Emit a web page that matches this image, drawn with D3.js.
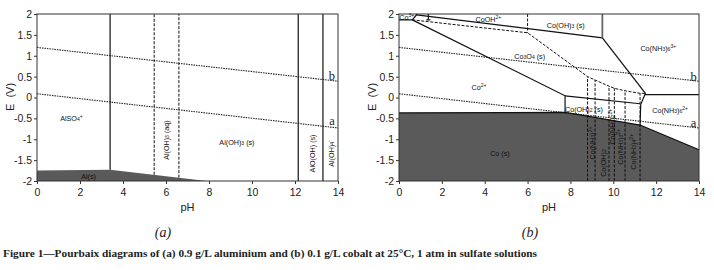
<!DOCTYPE html>
<html>
<head>
<meta charset="utf-8">
<script src="https://cdn.jsdelivr.net/npm/d3@7"></script>
<style>
  body { margin: 0; background: #fff; }
  svg { display: block; }
  .tick text { font-family: "Liberation Sans", Arial, sans-serif; font-size: 10.5px; fill: #222; }
  .tick line { stroke: #333; }
</style>
</head>
<body>
<svg id="chart" width="714" height="270"></svg>
<script>
// axis ticks
var phTicks = [0, 2, 4, 6, 8, 10, 12, 14];
var eTicks = [2, 1.5, 1, 0.5, 0, -0.5, -1, -1.5, -2];

// water stability lines (shared by both panels)
var waterB = [[0, 1.2], [14, 0.39]];
var waterA = [[0, 0.09], [14, -0.73]];

// ---- panel (a): aluminium ----
var alSolidArea = [[0, -1.75], [3.4, -1.73], [7.9, -2], [0, -2]];
var alSolidLines = [
  [[3.4, -1.73], [3.4, 2]],
  [[12.15, -2], [12.15, 2]],
  [[13.3, -2], [13.3, 2]]
];
var alDashLines = [
  [[5.45, -1.85], [5.45, 2]],
  [[6.6, -1.92], [6.6, 2]]
];
// [text, pH, E, rotated]
var alLabels = [
  ["AlSO{_4}{^+}", 1.6, -0.5, false],
  ["Al(OH){_3} (aq)", 6.0, -1.02, true],
  ["Al(OH){_3} (s)", 9.3, -1.06, false],
  ["AlO(OH) (s)", 12.78, -1.34, true],
  ["Al(OH){_4}{^-}", 13.67, -1.34, true],
  ["Al(s)", 2.4, -1.87, false]
];

// ---- panel (b): cobalt ----
var coSolidArea = [[0, -0.37], [7.75, -0.355], [11.25, -0.66], [14, -1.25], [14, -2], [0, -2]];
var coSolidLines = [
  [[0, -0.37], [7.75, -0.355], [11.25, -0.66], [14, -1.25]],
  [[0, 1.86], [0.62, 1.86], [0.85, 2]],
  [[0.62, 1.86], [7.75, 0.04], [7.75, -0.355]],
  [[7.75, 0.04], [11.25, -0.15]],
  [[0.82, 1.98], [9.49, 1.43], [11.5, 0.1], [11.28, -0.17], [11.25, -0.66]],
  [[11.48, 0.07], [14, 0.07]],
  [[1.37, 2], [1.37, 1.86]],
  [[1.27, 1.86], [1.47, 1.86]]
];
var coGreyLines = [
  [[9.49, 1.43], [9.49, 2]]
];
var coDashBoundary = [[0.62, 1.86], [6, 1.55], [8.8, 0.5], [9.15, 0.42], [9.8, 0.27], [10.05, 0.22], [10.55, 0.16], [11.25, 0.1], [11.5, 0.1]];
var coDashVerticals = [[8.8, 0.5], [9.15, 0.42], [9.8, 0.27], [10.05, 0.22], [10.55, 0.16], [11.25, 0.1]];
var coDashTop = [[6, 2], [6, 1.55]];
var coLabels = [
  ["Co{^3+}", 0.36, 1.92, false],
  ["CoOH{^2+}", 4.17, 1.88, false],
  ["Co(OH){_3} (s)", 7.78, 1.74, false],
  ["Co(NH{_3}){_6}{^3+}", 12.1, 1.18, false],
  ["Co{_3}O{_4} (s)", 6.1, 1.0, false],
  ["Co{^2+}", 3.73, 0.24, false],
  ["Co(OH){_2} (s)", 8.63, -0.28, false],
  ["Co(NH{_3}){_6}{^2+}", 12.65, -0.3, false],
  ["Co (s)", 4.71, -1.32, false],
  ["Co(NH{_3}){^2+}", 9.0, -1.09, true],
  ["Co(OH){_2}", 9.53, -1.57, true],
  ["Co(NH{_3}){_2}{^2+}", 9.92, -0.7, true],
  ["Co(NH{_3}){_3}{^2+}", 10.31, -1.18, true],
  ["Co(NH{_3}){_4}{^2+}", 10.93, -1.3, true]
];

var svg = d3.select("#chart");
var line = d3.line();

// writes "Al(OH){_3}" style markup into a text element with sub/sup tspans
function addRichText(sel, str) {
  var parts = str.split(/(\{[_^][^}]*\})/).filter(function (p) { return p.length; });
  parts.forEach(function (p) {
    var m = p.match(/^\{([_^])(.*)\}$/);
    if (m) {
      sel.append("tspan")
        .attr("font-size", "70%")
        .attr("baseline-shift", m[1] == "_" ? "-25%" : "45%")
        .text(m[2]);
    } else {
      sel.append("tspan").text(p);
    }
  });
}

function drawPanel(opt) {
  var x = d3.scaleLinear().domain([0, 14]).range([opt.left, opt.right]);
  var y = d3.scaleLinear().domain([-2, 2]).range([181, 14]);
  var g = svg.append("g");
  var path = line.x(function (d) { return x(d[0]); }).y(function (d) { return y(d[1]); });

  g.append("path").attr("d", path(opt.area) + "Z").attr("fill", "#5a5a5a").attr("stroke", "none");

  // water lines
  [opt.waterA, opt.waterB].forEach(function (w) {
    g.append("path").attr("d", path(w)).attr("fill", "none")
      .attr("stroke", "#222").attr("stroke-width", 1.1).attr("stroke-dasharray", "1.5,1");
  });

  opt.dashed.forEach(function (l) {
    g.append("path").attr("d", path(l)).attr("fill", "none")
      .attr("stroke", "#111").attr("stroke-width", 1).attr("stroke-dasharray", "3,1.5");
  });
  opt.solid.forEach(function (l) {
    g.append("path").attr("d", path(l)).attr("fill", "none")
      .attr("stroke", "#111").attr("stroke-width", 1.2);
  });
  (opt.grey || []).forEach(function (l) {
    g.append("path").attr("d", path(l)).attr("fill", "none")
      .attr("stroke", "#666").attr("stroke-width", 1.8);
  });

  // frame
  g.append("rect").attr("x", x(0)).attr("y", y(2))
    .attr("width", x(14) - x(0)).attr("height", y(-2) - y(2))
    .attr("fill", "none").attr("stroke", "#333").attr("stroke-width", 1);

  // region labels
  opt.labels.forEach(function (d) {
    var t = g.append("text")
      .attr("font-family", "Liberation Sans, Arial, sans-serif")
      .attr("font-size", 7.2)
      .attr("fill", "#111")
      .attr("text-anchor", "middle")
      .attr("dominant-baseline", "central");
    if (d[3]) t.attr("transform", "translate(" + x(d[1]) + "," + y(d[2]) + ") rotate(-90)");
    else t.attr("x", x(d[1])).attr("y", y(d[2]));
    addRichText(t, d[0]);
  });

  // a / b tags
  [["b", opt.bTag], ["a", opt.aTag]].forEach(function (d) {
    g.append("text").attr("x", x(d[1][0])).attr("y", y(d[1][1]))
      .attr("font-family", "Liberation Serif, serif").attr("font-size", 12.5)
      .attr("text-anchor", "middle").attr("dominant-baseline", "central")
      .attr("fill", "#222").text(d[0]);
  });

  // axes
  var ax = g.append("g").attr("transform", "translate(0,181)")
    .call(d3.axisBottom(x).tickValues(phTicks).tickSize(3).tickPadding(5));
  ax.select(".domain").remove();
  var ay = g.append("g").attr("transform", "translate(" + opt.left + ",0)")
    .call(d3.axisLeft(y).tickValues(eTicks).tickSize(3).tickPadding(2)
      .tickFormat(function (d) { return String(d); }));
  ay.select(".domain").remove();

  g.append("text").attr("x", (opt.left + opt.right) / 2).attr("y", 211)
    .attr("text-anchor", "middle").attr("font-family", "Liberation Sans, Arial, sans-serif")
    .attr("font-size", 11).attr("fill", "#222").text("pH");
  g.append("text").attr("transform", "translate(" + (opt.left - 27) + ",97) rotate(-90)")
    .attr("text-anchor", "middle").attr("dominant-baseline", "central")
    .attr("font-family", "Liberation Sans, Arial, sans-serif")
    .attr("font-size", 11).attr("fill", "#222").attr("xml:space", "preserve").text("E  (V)");

  g.append("text").attr("x", opt.tagX).attr("y", 237)
    .attr("text-anchor", "middle").attr("font-family", "Liberation Serif, serif")
    .attr("font-style", "italic").attr("font-size", 14).attr("fill", "#222").text(opt.tag);
}

drawPanel({
  left: 37, right: 338, area: alSolidArea, solid: alSolidLines, dashed: alDashLines,
  labels: alLabels, waterA: waterA, waterB: waterB,
  bTag: [13.72, 0.52], aTag: [13.72, -0.56], tag: "(a)", tagX: 163
});
drawPanel({
  left: 399, right: 699, area: coSolidArea, solid: coSolidLines, grey: coGreyLines,
  dashed: [coDashBoundary, coDashTop].concat(coDashVerticals.map(function (d) { return [[d[0], -2], d]; })),
  labels: coLabels, waterA: waterA, waterB: waterB,
  bTag: [13.75, 0.48], aTag: [13.75, -0.6], tag: "(b)", tagX: 530
});

svg.append("text").attr("x", 3).attr("y", 257)
  .attr("font-family", "Liberation Serif, serif").attr("font-weight", "bold")
  .attr("font-size", 10.5).attr("fill", "#222")
  .attr("textLength", 534).attr("lengthAdjust", "spacingAndGlyphs")
  .text("Figure 1\u2014Pourbaix diagrams of (a) 0.9 g/L aluminium and (b) 0.1 g/L cobalt at 25\u00b0C, 1 atm in sulfate solutions");
</script>
</body>
</html>
